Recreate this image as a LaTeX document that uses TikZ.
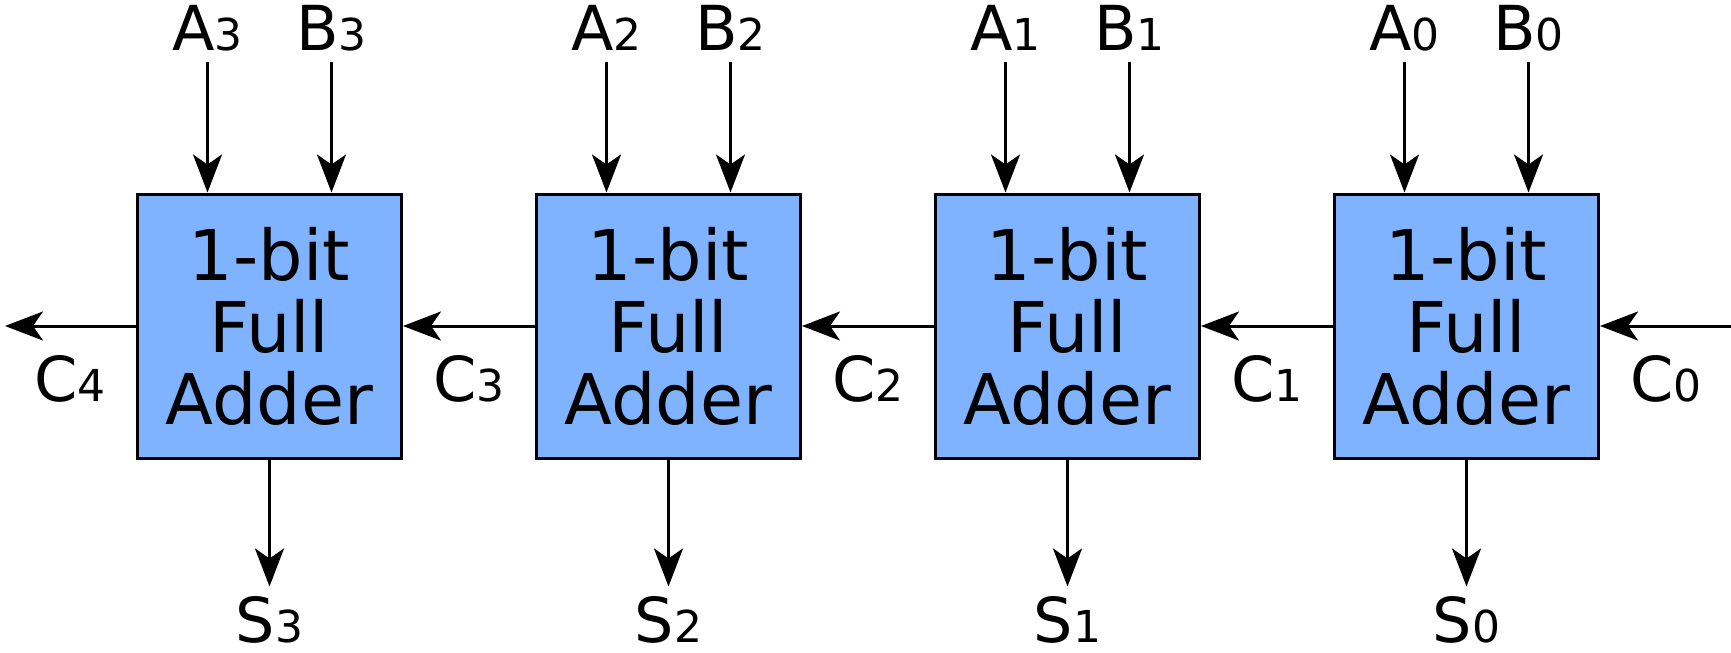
\documentclass[tikz,border=0pt]{standalone}
\usepackage{fontspec}
\setmainfont{DejaVu Sans}
\usetikzlibrary{arrows.meta}
\newcommand{\idx}[1]{{\fontsize{22pt}{22pt}\selectfont #1}}
\definecolor{faBlue}{RGB}{128,179,255}
\tikzset{every picture/.style={line width=1.5pt}}
\tikzset{
  fabox/.style={draw=black, fill=faBlue, minimum width=132pt, minimum height=132pt,
    align=center, inner sep=0pt, font=\fontsize{35pt}{36pt}\selectfont},
  sig/.style={-{Stealth[length=19pt, width=14.5pt, inset=5pt]}},
  lbl/.style={anchor=base, inner sep=5pt, font=\fontsize{31pt}{31pt}\selectfont},
  sumlbl/.style={lbl, inner sep=0pt}
}

\begin{document}
\begin{tikzpicture}[x=0.5pt,y=0.5pt,yscale=-1,xscale=1]
	\useasboundingbox (0,0) rectangle (1731,653);

	%Shape: Square [fa3]
	\node [fabox] (fa3) at (269.5,326) {1-bit\\Full\\Adder};
	%Shape: Square [fa2]
	\node [fabox] (fa2) at (668.5,326) {1-bit\\Full\\Adder};
	%Shape: Square [fa1]
	\node [fabox] (fa1) at (1067.5,326) {1-bit\\Full\\Adder};
	%Shape: Square [fa0]
	\node [fabox] (fa0) at (1466.5,326) {1-bit\\Full\\Adder};

	% Text Node
	\node [lbl] (A3) at (207.5,50) {A\idx{3}};
	\node [lbl] (B3) at (331.5,50) {B\idx{3}};
	\node [lbl] (A2) at (606.5,50) {A\idx{2}};
	\node [lbl] (B2) at (730.5,50) {B\idx{2}};
	\node [lbl] (A1) at (1005.5,50) {A\idx{1}};
	\node [lbl] (B1) at (1129.5,50) {B\idx{1}};
	\node [lbl] (A0) at (1404.5,50) {A\idx{0}};
	\node [lbl] (B0) at (1528.5,50) {B\idx{0}};
	% Text Node
	\node [sumlbl] (S3) at (269.5,642) {S\idx{3}};
	\node [sumlbl] (S2) at (668.5,642) {S\idx{2}};
	\node [sumlbl] (S1) at (1067.5,642) {S\idx{1}};
	\node [sumlbl] (S0) at (1466.5,642) {S\idx{0}};
	% Text Node
	\node [lbl] (C4) at (70,401) {C\idx{4}};
	\node [lbl] (C3) at (469,401) {C\idx{3}};
	\node [lbl] (C2) at (868,401) {C\idx{2}};
	\node [lbl] (C1) at (1267,401) {C\idx{1}};
	\node [lbl] (C0) at (1666,401) {C\idx{0}};

	%Straight Lines [inputs]
	\draw [sig] (A3) -- (A3 |- fa3.north);
	\draw [sig] (B3) -- (B3 |- fa3.north);
	\draw [sig] (A2) -- (A2 |- fa2.north);
	\draw [sig] (B2) -- (B2 |- fa2.north);
	\draw [sig] (A1) -- (A1 |- fa1.north);
	\draw [sig] (B1) -- (B1 |- fa1.north);
	\draw [sig] (A0) -- (A0 |- fa0.north);
	\draw [sig] (B0) -- (B0 |- fa0.north);
	%Straight Lines [sums]
	\draw [sig, shorten >=4pt] (fa3) -- (S3);
	\draw [sig, shorten >=4pt] (fa2) -- (S2);
	\draw [sig, shorten >=4pt] (fa1) -- (S1);
	\draw [sig, shorten >=4pt] (fa0) -- (S0);
	%Straight Lines [carries]
	\coordinate (cin) at (1731,326);
	\coordinate (cout) at (5,326);
	\draw [sig] (cin) -- (fa0.east);
	\draw [sig] (fa0.west) -- (fa1.east);
	\draw [sig] (fa1.west) -- (fa2.east);
	\draw [sig] (fa2.west) -- (fa3.east);
	\draw [sig] (fa3.west) -- (cout);

\end{tikzpicture}
\end{document}
